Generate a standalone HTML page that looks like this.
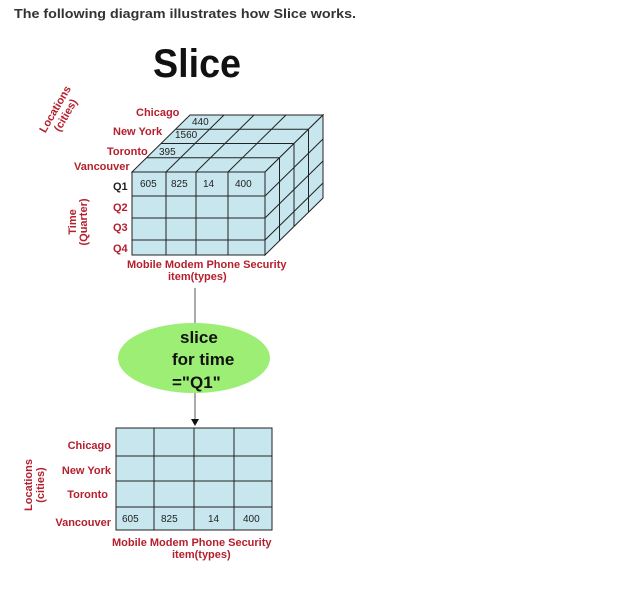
<!DOCTYPE html>
<html><head><meta charset="utf-8"><style>
html,body{margin:0;padding:0;background:#fff;}
svg{display:block;font-family:"Liberation Sans",sans-serif;}
.r{fill:#b5202e;font-weight:bold;font-size:11px;}
.n{fill:#222;font-size:10px;}
</style></head><body>
<svg width="632" height="596" viewBox="0 0 632 596" xmlns="http://www.w3.org/2000/svg">
<text x="14" y="18" font-size="13" font-weight="bold" fill="#333" textLength="342" lengthAdjust="spacingAndGlyphs">The following diagram illustrates how Slice works.</text>
<text x="153" y="77" font-size="40" font-weight="bold" fill="#111" textLength="88" lengthAdjust="spacingAndGlyphs">Slice</text>

<g stroke="#222" stroke-width="1" fill="#c7e6ee">
<!-- top face -->
<polygon points="132,172 265,172 323,115 190,115"/>
<!-- right face -->
<polygon points="265,172 323,115 323,198 265,255"/>
<!-- front -->
<rect x="132" y="172" width="133" height="83"/>
</g>
<g stroke="#222" stroke-width="1" fill="none">
<!-- top face depth lines -->
<line x1="146.5" y1="157.75" x2="279.5" y2="157.75"/>
<line x1="161" y1="143.5" x2="294" y2="143.5"/>
<line x1="175.5" y1="129.25" x2="308.5" y2="129.25"/>
<!-- top face column lines -->
<line x1="166" y1="172" x2="224" y2="115"/>
<line x1="196" y1="172" x2="254" y2="115"/>
<line x1="228" y1="172" x2="286" y2="115"/>
<!-- right face depth lines -->
<line x1="279.5" y1="157.75" x2="279.5" y2="240.75"/>
<line x1="294" y1="143.5" x2="294" y2="226.5"/>
<line x1="308.5" y1="129.25" x2="308.5" y2="212.25"/>
<!-- right face rows -->
<line x1="265" y1="196" x2="323" y2="139"/>
<line x1="265" y1="218" x2="323" y2="161"/>
<line x1="265" y1="240" x2="323" y2="183"/>
<!-- front grid -->
<line x1="166" y1="172" x2="166" y2="255"/>
<line x1="196" y1="172" x2="196" y2="255"/>
<line x1="228" y1="172" x2="228" y2="255"/>
<line x1="132" y1="196" x2="265" y2="196"/>
<line x1="132" y1="218" x2="265" y2="218"/>
<line x1="132" y1="240" x2="265" y2="240"/>
</g>
<text class="n" x="140" y="187">605</text>
<text class="n" x="171" y="187">825</text>
<text class="n" x="203" y="187">14</text>
<text class="n" x="235" y="187">400</text>
<text class="n" x="192" y="125" font-size="9">440</text>
<text class="n" x="175" y="138" font-size="9">1560</text>
<text class="n" x="159" y="155" font-size="9">395</text>

<text class="r" x="136" y="116">Chicago</text>
<text class="r" x="113" y="135">New York</text>
<text class="r" x="107" y="155">Toronto</text>
<text class="r" x="74" y="170">Vancouver</text>
<text x="113" y="190" font-size="11" font-weight="bold" fill="#222">Q1</text>
<text class="r" x="113" y="211">Q2</text>
<text class="r" x="113" y="231">Q3</text>
<text class="r" x="113" y="252">Q4</text>
<text class="r" x="127" y="268" font-size="10">Mobile Modem Phone Security</text>
<text class="r" x="168" y="280" font-size="10">item(types)</text>
<g transform="translate(60,112) rotate(-60)">
<text class="r" x="0" y="-2" font-size="10" text-anchor="middle">Locations</text>
<text class="r" x="0" y="10" font-size="10" text-anchor="middle">(cities)</text>
</g>
<g transform="translate(78,222) rotate(-90)">
<text class="r" x="0" y="-2" font-size="9" text-anchor="middle">Time</text>
<text class="r" x="0" y="9" font-size="9" text-anchor="middle">(Quarter)</text>
</g>

<line x1="195" y1="288" x2="195" y2="323" stroke="#555" stroke-width="1"/>
<ellipse cx="194" cy="358" rx="76" ry="35" fill="#9cee74"/>
<text x="180" y="343" font-size="17" font-weight="bold" fill="#111">slice</text>
<text x="172" y="365" font-size="17" font-weight="bold" fill="#111">for time</text>
<text x="172" y="388" font-size="17" font-weight="bold" fill="#111">="Q1"</text>
<line x1="195" y1="393" x2="195" y2="420" stroke="#555" stroke-width="1"/>
<polygon points="191,419 199,419 195,426" fill="#111"/>

<rect x="116" y="428" width="156" height="102" fill="#c7e6ee" stroke="#222"/>
<g stroke="#222">
<line x1="154" y1="428" x2="154" y2="530"/>
<line x1="194" y1="428" x2="194" y2="530"/>
<line x1="234" y1="428" x2="234" y2="530"/>
<line x1="116" y1="456" x2="272" y2="456"/>
<line x1="116" y1="481" x2="272" y2="481"/>
<line x1="116" y1="507" x2="272" y2="507"/>
</g>
<text class="n" x="122" y="522">605</text>
<text class="n" x="161" y="522">825</text>
<text class="n" x="208" y="522">14</text>
<text class="n" x="243" y="522">400</text>
<text class="r" x="111" y="449" text-anchor="end">Chicago</text>
<text class="r" x="111" y="474" text-anchor="end">New York</text>
<text class="r" x="108" y="498" text-anchor="end">Toronto</text>
<text class="r" x="111" y="526" text-anchor="end">Vancouver</text>
<text class="r" x="112" y="546" font-size="10.5">Mobile Modem Phone Security</text>
<text class="r" x="172" y="558" font-size="10.5">item(types)</text>
<g transform="translate(33,485) rotate(-90)">
<text class="r" x="0" y="-1" font-size="10" text-anchor="middle">Locations</text>
<text class="r" x="0" y="11" font-size="10" text-anchor="middle">(cities)</text>
</g>
</svg>
</body></html>
